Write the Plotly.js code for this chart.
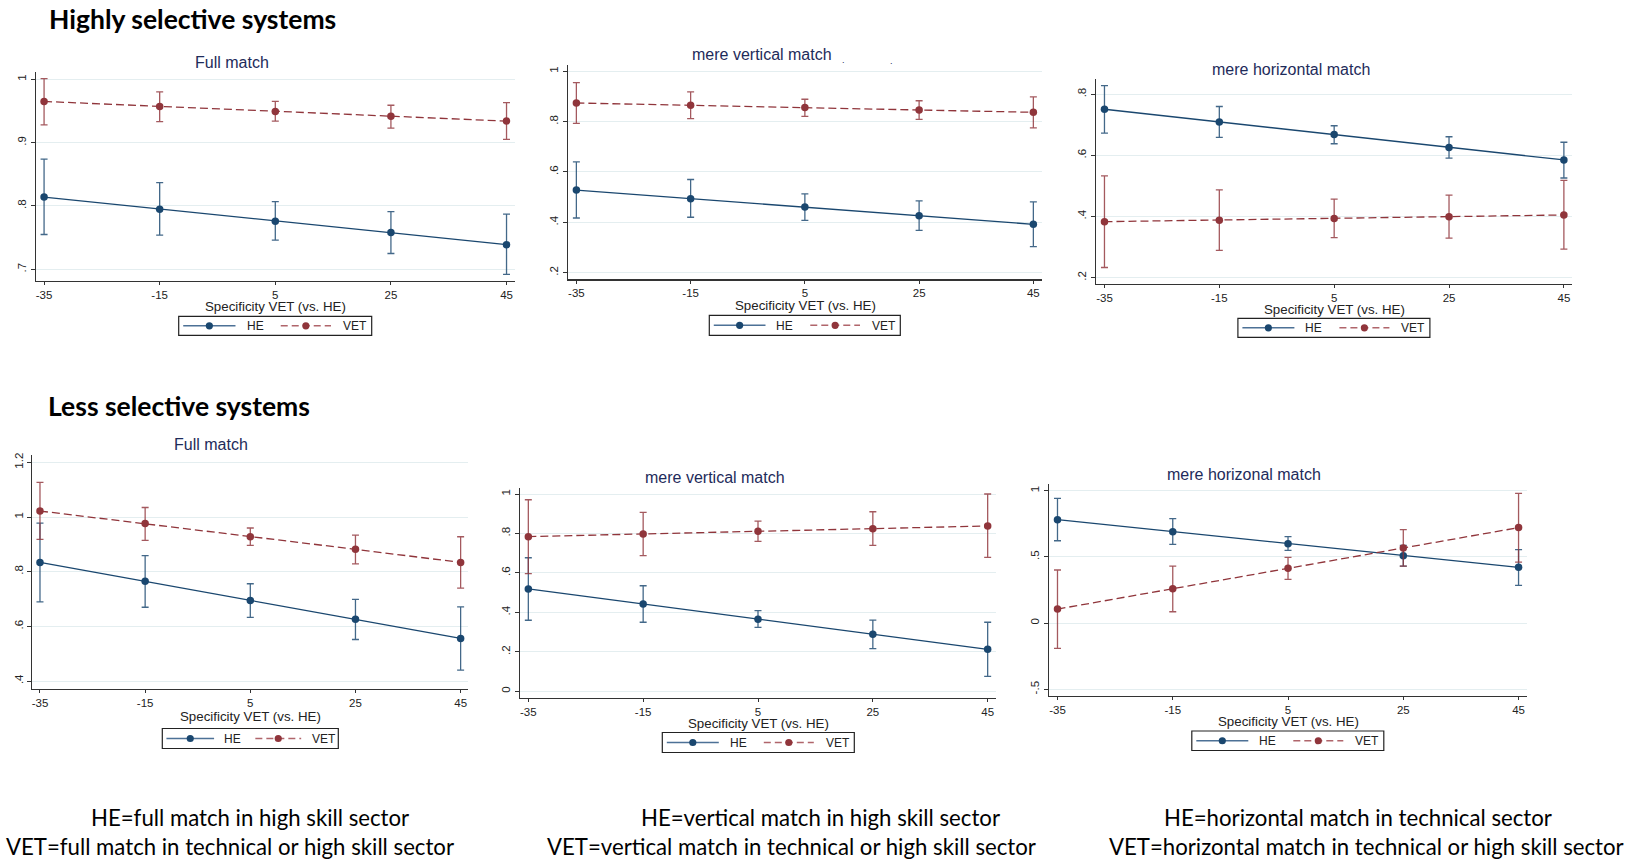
<!DOCTYPE html>
<html><head><meta charset="utf-8">
<script src="https://cdn.plot.ly/plotly-3.0.1.min.js"></script>
<style>html,body{margin:0;padding:0;background:#fff;overflow:hidden}#chart{width:1631px;height:862px}</style>
</head><body><div id="chart"></div>
<script>
// ---------- DATA ----------
const specificity = [-35, -15, 5, 25, 45];
const xTickLabels = ['-35', '-15', '5', '25', '45'];
const seriesNames = ['HE', 'VET'];
const xAxisTitle = 'Specificity VET (vs. HE)';
const panelTitles = ['Full match', 'mere vertical match', 'mere horizontal match',
                     'Full match', 'mere vertical match', 'mere horizonal match'];
const sectionHeadings = ['Highly selective systems', 'Less selective systems'];
const noteLines1 = ['HE=full match in high skill sector', 'HE=vertical match in high skill sector', 'HE=horizontal match in technical sector'];
const noteLines2 = ['VET=full match in technical or high skill sector', 'VET=vertical match in technical or high skill sector', 'VET=horizontal match in technical or high skill sector'];

// Highly selective — Full match
const hsFullHE    = [0.814, 0.795, 0.776, 0.758, 0.739];
const hsFullHELo  = [0.755, 0.754, 0.746, 0.725, 0.692];
const hsFullHEHi  = [0.874, 0.837, 0.807, 0.791, 0.787];
const hsFullVET   = [0.965, 0.957, 0.949, 0.9415, 0.934];
const hsFullVETLo = [0.928, 0.933, 0.934, 0.923, 0.905];
const hsFullVETHi = [1.001, 0.980, 0.965, 0.959, 0.963];
const hsFullYTicks = [0.7, 0.8, 0.9, 1];
const hsFullYLabels = ['.7', '.8', '.9', '1'];

// Highly selective — mere vertical match
const hsVertHE    = [0.528, 0.494, 0.461, 0.426, 0.392];
const hsVertHELo  = [0.417, 0.420, 0.408, 0.368, 0.303];
const hsVertHEHi  = [0.640, 0.570, 0.513, 0.485, 0.481];
const hsVertVET   = [0.874, 0.865, 0.856, 0.846, 0.837];
const hsVertVETLo = [0.793, 0.812, 0.821, 0.809, 0.775];
const hsVertVETHi = [0.955, 0.918, 0.889, 0.883, 0.898];
const hsVertYTicks = [0.2, 0.4, 0.6, 0.8, 1];
const hsVertYLabels = ['.2', '.4', '.6', '.8', '1'];

// Highly selective — mere horizontal match
const hsHorHE    = [0.751, 0.709, 0.668, 0.626, 0.585];
const hsHorHELo  = [0.673, 0.659, 0.638, 0.591, 0.526];
const hsHorHEHi  = [0.828, 0.760, 0.697, 0.661, 0.643];
const hsHorVET   = [0.383, 0.388, 0.393, 0.399, 0.405];
const hsHorVETLo = [0.233, 0.289, 0.331, 0.329, 0.293];
const hsHorVETHi = [0.533, 0.487, 0.457, 0.470, 0.518];
const hsHorYTicks = [0.2, 0.4, 0.6, 0.8];
const hsHorYLabels = ['.2', '.4', '.6', '.8'];

// Less selective — Full match
const lsFullHE    = [0.834, 0.765, 0.695, 0.626, 0.556];
const lsFullHELo  = [0.690, 0.670, 0.633, 0.552, 0.440];
const lsFullHEHi  = [0.978, 0.859, 0.756, 0.699, 0.671];
const lsFullVET   = [1.022, 0.976, 0.928, 0.882, 0.834];
const lsFullVETLo = [0.918, 0.915, 0.896, 0.829, 0.740];
const lsFullVETHi = [1.127, 1.035, 0.960, 0.934, 0.928];
const lsFullYTicks = [0.4, 0.6, 0.8, 1, 1.2];
const lsFullYLabels = ['.4', '.6', '.8', '1', '1.2'];

// Less selective — mere vertical match
const lsVertHE    = [0.519, 0.443, 0.365, 0.289, 0.213];
const lsVertHELo  = [0.360, 0.350, 0.324, 0.216, 0.076];
const lsVertHEHi  = [0.677, 0.535, 0.409, 0.361, 0.350];
const lsVertVET   = [0.784, 0.797, 0.811, 0.824, 0.838];
const lsVertVETLo = [0.596, 0.688, 0.760, 0.740, 0.679];
const lsVertVETHi = [0.971, 0.907, 0.863, 0.910, 1.000];
const lsVertYTicks = [0, 0.2, 0.4, 0.6, 0.8, 1];
const lsVertYLabels = ['0', '.2', '.4', '.6', '.8', '1'];

// Less selective — mere horizonal match
const lsHorHE    = [0.781, 0.690, 0.600, 0.509, 0.421];
const lsHorHELo  = [0.622, 0.595, 0.549, 0.431, 0.285];
const lsHorHEHi  = [0.942, 0.789, 0.653, 0.587, 0.555];
const lsHorVET   = [0.106, 0.260, 0.414, 0.567, 0.721];
const lsHorVETLo = [-0.190, 0.086, 0.330, 0.431, 0.461];
const lsHorVETHi = [0.401, 0.431, 0.497, 0.706, 0.980];
const lsHorYTicks = [-0.5, 0, 0.5, 1];
const lsHorYLabels = ['-.5', '0', '.5', '1'];

// ---------- LAYOUT HELPERS ----------
const W = 1631, H = 862;
const fx = p => p / W;
const fy = p => 1 - p / H;

const HE_COLOR = '#1a476f', VET_COLOR = '#90353b';
const HE_ERR = 'rgba(26,71,111,0.82)', VET_ERR = 'rgba(144,53,59,0.82)';
const HE_LEG = '#4d7196', VET_LEG = '#b0656b';
const AXIS_FONT = 'Liberation Sans, Arial, sans-serif';
const DOC_FONT = 'Lato, Liberation Sans, sans-serif';

const panels = [
  {he: hsFullHE, heLo: hsFullHELo, heHi: hsFullHEHi, vet: hsFullVET, vetLo: hsFullVETLo, vetHi: hsFullVETHi,
   yt: hsFullYTicks, yl: hsFullYLabels, box: [35.8, 514.8, 72.3, 281], xr: [-36.43, 46.43], yr: [0.6816, 1.011],
   tp: [231.7, 62.3], ap: [275.5, 305.5], lg: [178.7, 316.3, 193, 19]},
  {he: hsVertHE, heLo: hsVertHELo, heHi: hsVertHEHi, vet: hsVertVET, vetLo: hsVertVETLo, vetHi: hsVertVETHi,
   yt: hsVertYTicks, yl: hsVertYLabels, box: [567.7, 1041.7, 65, 279.3], xr: [-36.52, 46.46], yr: [0.1735, 1.025],
   tp: [761.7, 55], ap: [805, 304.5], lg: [709.3, 315.3, 191, 20]},
  {he: hsHorHE, heLo: hsHorHELo, heHi: hsHorHEHi, vet: hsHorVET, vetLo: hsHorVETLo, vetHi: hsHorVETHi,
   yt: hsHorYTicks, yl: hsHorYLabels, box: [1095.8, 1571.8, 79.3, 284], xr: [-36.51, 46.38], yr: [0.179, 0.849],
   tp: [1290.7, 70], ap: [1334, 308], lg: [1237.9, 318.3, 192, 19]},
  {he: lsFullHE, heLo: lsFullHELo, heHi: lsFullHEHi, vet: lsFullVET, vetLo: lsFullVETLo, vetHi: lsFullVETHi,
   yt: lsFullYTicks, yl: lsFullYLabels, box: [32.3, 468.3, 455, 688.7], xr: [-36.46, 46.46], yr: [0.372, 1.227],
   tp: [210.7, 444.3], ap: [250, 715.5], lg: [162.3, 728.5, 176, 20]},
  {he: lsVertHE, heLo: lsVertHELo, heHi: lsVertHEHi, vet: lsVertVET, vetLo: lsVertVETLo, vetHi: lsVertVETHi,
   yt: lsVertYTicks, yl: lsVertYLabels, box: [520, 996, 487.7, 698], xr: [-36.45, 46.45], yr: [-0.034, 1.032],
   tp: [715, 477.7], ap: [758.3, 722.5], lg: [662.3, 732.5, 192, 20]},
  {he: lsHorHE, heLo: lsHorHELo, heHi: lsHorHEHi, vet: lsHorVET, vetLo: lsHorVETLo, vetHi: lsHorVETHi,
   yt: lsHorYTicks, yl: lsHorYLabels, box: [1048.9, 1526.8, 484.3, 696], xr: [-36.49, 46.43], yr: [-0.55, 1.048],
   tp: [1244.3, 474.3], ap: [1288.2, 720.5], lg: [1191.8, 731, 192, 19.5]}
];

const traces = [];
const layout = {
  width: W, height: H, margin: {l: 0, r: 0, t: 0, b: 0},
  paper_bgcolor: '#ffffff', plot_bgcolor: '#ffffff',
  showlegend: false, hovermode: false,
  annotations: [], shapes: []
};

function ann(x, y, text, font, xanchor) {
  layout.annotations.push({xref: 'paper', yref: 'paper', x: fx(x), y: fy(y), xanchor: xanchor || 'center',
    yanchor: 'middle', text: text, showarrow: false, font: font});
}
function lineShape(x0, y0, x1, y1, color, dash, width) {
  layout.shapes.push({type: 'line', xref: 'paper', yref: 'paper', x0: fx(x0), y0: fy(y0), x1: fx(x1), y1: fy(y1),
    line: {color: color, width: width || 1.3, dash: dash || 'solid'}});
}
function dotShape(cx, cy, r, color) {
  layout.shapes.push({type: 'circle', xref: 'paper', yref: 'paper', x0: fx(cx - r), x1: fx(cx + r), y0: fy(cy + r), y1: fy(cy - r),
    fillcolor: color, line: {color: color, width: 0}});
}

panels.forEach((p, i) => {
  const n = i === 0 ? '' : String(i + 1);
  const xa = 'x' + n, ya = 'y' + n;
  const errHi = (v, hi) => hi.map((h, k) => h - v[k]);
  const errLo = (v, lo) => v.map((m, k) => m - lo[k]);

  traces.push({
    type: 'scatter', mode: 'lines+markers', name: seriesNames[0], x: specificity, y: p.he,
    xaxis: xa, yaxis: ya, cliponaxis: false,
    line: {color: HE_COLOR, width: 1.3},
    marker: {color: HE_COLOR, size: 7.5},
    error_y: {type: 'data', symmetric: false, array: errHi(p.he, p.heHi), arrayminus: errLo(p.he, p.heLo),
              color: HE_ERR, thickness: 1.3, width: 3.5}
  });
  traces.push({
    type: 'scatter', mode: 'lines+markers', name: seriesNames[1], x: specificity, y: p.vet,
    xaxis: xa, yaxis: ya, cliponaxis: false,
    line: {color: VET_COLOR, width: 1.3, dash: '8px,4px'},
    marker: {color: VET_COLOR, size: 7.5},
    error_y: {type: 'data', symmetric: false, array: errHi(p.vet, p.vetHi), arrayminus: errLo(p.vet, p.vetLo),
              color: VET_ERR, thickness: 1.3, width: 3.5}
  });

  layout['xaxis' + n] = {
    domain: [fx(p.box[0]), fx(p.box[1])], anchor: ya, range: p.xr,
    tickmode: 'array', tickvals: specificity, ticktext: xTickLabels,
    showgrid: false, zeroline: false, showline: true, linecolor: '#333', linewidth: 1.2,
    ticks: 'outside', ticklen: 3, tickcolor: '#333', tickwidth: 1,
    tickfont: {family: AXIS_FONT, size: 11.5, color: '#222'}, automargin: false, fixedrange: true
  };
  layout['yaxis' + n] = {
    domain: [fy(p.box[3]), fy(p.box[2])], anchor: xa, range: p.yr,
    tickmode: 'array', tickvals: p.yt, ticktext: p.yl, tickangle: -90,
    showgrid: true, gridcolor: '#e4eef0', gridwidth: 1, zeroline: false,
    showline: true, linecolor: '#333', linewidth: 1.2,
    ticks: 'outside', ticklen: 4, tickcolor: '#333', tickwidth: 1,
    tickfont: {family: AXIS_FONT, size: 11.5, color: '#222'}, automargin: false, fixedrange: true
  };

  ann(p.tp[0], p.tp[1], panelTitles[i], {family: AXIS_FONT, size: 16, color: '#1e2b5a'});
  ann(p.ap[0], p.ap[1] + 1, xAxisTitle, {family: AXIS_FONT, size: 13.3, color: '#222'});

  // Legend box (Stata style): border, two keys with line + marker, labels
  const [lx, ly, lw, lh] = p.lg;
  const s = lw / 192;
  const cy = ly + lh / 2;
  layout.shapes.push({type: 'rect', xref: 'paper', yref: 'paper', x0: fx(lx), x1: fx(lx + lw), y0: fy(ly + lh), y1: fy(ly),
    line: {color: '#222', width: 1.2}, fillcolor: 'rgba(0,0,0,0)'});
  lineShape(lx + 4.5 * s, cy, lx + 56.5 * s, cy, HE_LEG, 'solid', 1.4);
  dotShape(lx + 30.5 * s, cy, 3.6, HE_COLOR);
  ann(lx + 65.5 * s, cy + 0.5, seriesNames[0], {family: AXIS_FONT, size: 12, color: '#222'}, 'left');
  lineShape(lx + 101.5 * s, cy, lx + 151.5 * s, cy, VET_LEG, '7px,4px', 1.4);
  dotShape(lx + 126.5 * s, cy, 3.6, VET_COLOR);
  ann(lx + 161.5 * s, cy + 0.5, seriesNames[1], {family: AXIS_FONT, size: 12, color: '#222'}, 'left');
});

// stray dots next to the second title in the reference
ann(843.3, 59.5, '.', {family: AXIS_FONT, size: 9, color: '#1e2b5a'});
ann(891.7, 60.5, '.', {family: AXIS_FONT, size: 9, color: '#1e2b5a'});

// Section headings
ann(47, 18.5, '<b>' + sectionHeadings[0] + '</b>', {family: DOC_FONT, size: 26.5, color: '#000'}, 'left');
ann(46, 406, '<b>' + sectionHeadings[1] + '</b>', {family: DOC_FONT, size: 26.5, color: '#000'}, 'left');

// Notes below
const noteCenters1 = [250, 820, 1358];
const noteCenters2 = [230, 791.7, 1366];
noteLines1.forEach((t, i) => {
  ann(noteCenters1[i], 817.5, t, {family: DOC_FONT, size: 22.2, color: '#000'});
  ann(noteCenters2[i], 846, noteLines2[i], {family: DOC_FONT, size: 22.2, color: '#000'});
});

Plotly.newPlot('chart', traces, layout, {staticPlot: true, displayModeBar: false});
</script></body></html>
